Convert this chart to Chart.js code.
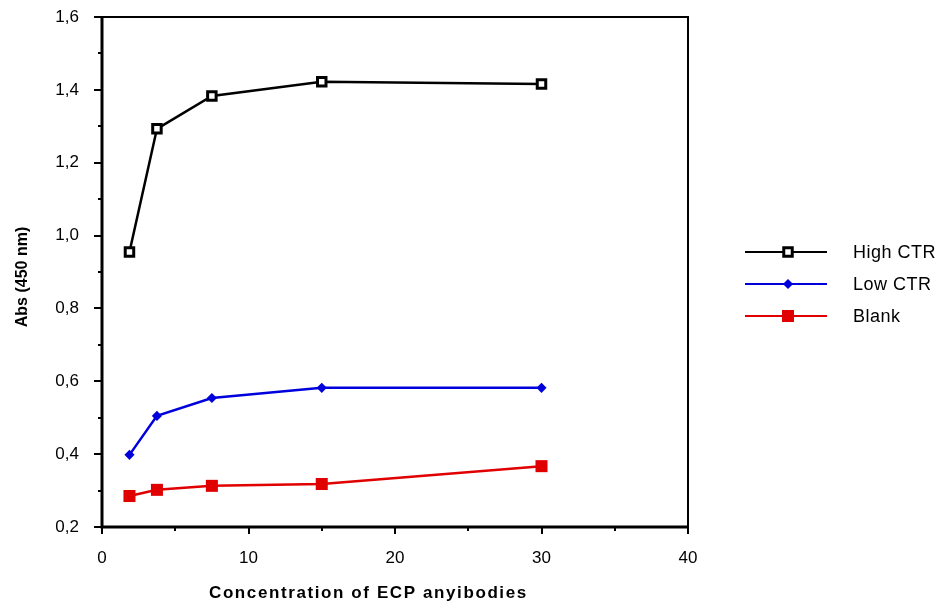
<!DOCTYPE html>
<html>
<head>
<meta charset="utf-8">
<script src="https://cdn.jsdelivr.net/npm/chart.js@4/dist/chart.umd.min.js"></script>
<style>
html,body{margin:0;padding:0;background:#fff;}
#wrap{width:942px;height:605px;position:relative;}
</style>
</head>
<body>
<div id="wrap"><canvas id="c" width="942" height="605"></canvas></div>
<script>
const concentrations = [1.875, 3.75, 7.5, 15, 30];
const highCTR = [0.955, 1.293, 1.383, 1.422, 1.416];
const lowCTR = [0.398, 0.505, 0.554, 0.582, 0.582];
const blank = [0.285, 0.302, 0.313, 0.318, 0.367];
const seriesNames = ['High CTR', 'Low CTR', 'Blank'];
const xTicks = [0, 10, 20, 30, 40];
const xMinorTicks = [5, 15, 25, 35];
const yTicks = [0.2, 0.4, 0.6, 0.8, 1.0, 1.2, 1.4, 1.6];
const yMinorTicks = [0.3, 0.5, 0.7, 0.9, 1.1, 1.3, 1.5];
const xTitle = 'Concentration of ECP anyibodies';
const yTitle = 'Abs (450 nm)';

const FONT = '"Liberation Sans", Arial, sans-serif';

function pts(ys){ return concentrations.map((x,i)=>({x:x,y:ys[i]})); }

const datasets = [
  {label: seriesNames[0], data: pts(highCTR), borderColor:'#000', backgroundColor:'#fff',
   pointStyle:'rect', pointRadius:6, pointBorderWidth:3, pointBorderColor:'#000', pointBackgroundColor:'#fff', borderWidth:2.5},
  {label: seriesNames[1], data: pts(lowCTR), borderColor:'#0000dd', backgroundColor:'#0000dd',
   pointStyle:'rectRot', pointRadius:4, pointBorderWidth:1.5, pointBorderColor:'#0000dd', pointBackgroundColor:'#0000dd', borderWidth:2.5},
  {label: seriesNames[2], data: pts(blank), borderColor:'#e00000', backgroundColor:'#e00000',
   pointStyle:'rect', pointRadius:8.5, pointBorderWidth:0, pointBorderColor:'#e00000', pointBackgroundColor:'#e00000', borderWidth:2.5}
];

const decor = {
  id:'decor',
  afterDraw(chart){
    const ctx = chart.ctx, a = chart.chartArea;
    const xs = chart.scales.x, ys = chart.scales.y;
    ctx.save();
    // frame
    ctx.strokeStyle = '#000';
    ctx.lineWidth = 2;
    ctx.beginPath();
    ctx.moveTo(a.left, a.top); ctx.lineTo(a.right, a.top); ctx.lineTo(a.right, a.bottom);
    ctx.stroke();
    ctx.lineWidth = 3;
    ctx.beginPath();
    ctx.moveTo(a.left, a.top-1); ctx.lineTo(a.left, a.bottom); ctx.lineTo(a.right+1, a.bottom);
    ctx.stroke();
    // ticks
    ctx.lineWidth = 2;
    ctx.beginPath();
    yTicks.forEach(v=>{const y=Math.round(ys.getPixelForValue(v)); ctx.moveTo(a.left-8,y); ctx.lineTo(a.left,y);});
    yMinorTicks.forEach(v=>{const y=Math.round(ys.getPixelForValue(v)); ctx.moveTo(a.left-4,y); ctx.lineTo(a.left,y);});
    xTicks.forEach(v=>{const x=Math.round(xs.getPixelForValue(v)); ctx.moveTo(x,a.bottom); ctx.lineTo(x,a.bottom+7);});
    xMinorTicks.forEach(v=>{const x=Math.round(xs.getPixelForValue(v)); ctx.moveTo(x,a.bottom); ctx.lineTo(x,a.bottom+4);});
    ctx.stroke();
    // axis titles
    ctx.fillStyle = '#000';
    ctx.font = 'bold 17px ' + FONT;
    ctx.textAlign = 'left';
    ctx.textBaseline = 'middle';
    try { ctx.letterSpacing = '1.6px'; } catch(e){}
    ctx.fillText(xTitle, 209, 593);
    try { ctx.letterSpacing = '0px'; } catch(e){}
    ctx.font = 'bold 16px ' + FONT;
    ctx.textAlign = 'center';
    ctx.save();
    ctx.translate(23, 277);
    ctx.rotate(-Math.PI/2);
    ctx.fillText(yTitle, 0, 0);
    ctx.restore();
    // legend
    const ly = [252, 284, 316];
    chart.data.datasets.forEach((ds,i)=>{
      const y = ly[i];
      ctx.strokeStyle = ds.borderColor;
      ctx.lineWidth = 2;
      ctx.beginPath(); ctx.moveTo(745,y); ctx.lineTo(827,y); ctx.stroke();
      ctx.fillStyle = ds.pointBackgroundColor; ctx.strokeStyle = ds.pointBorderColor; ctx.lineWidth = ds.pointBorderWidth;
      Chart.helpers.drawPoint(ctx, {pointStyle: ds.pointStyle, radius: ds.pointRadius, borderWidth: ds.pointBorderWidth}, 788, y);
      ctx.fillStyle = '#000';
      ctx.font = '18px ' + FONT;
      ctx.textAlign = 'left';
      ctx.textBaseline = 'middle';
      try { ctx.letterSpacing = '0.5px'; } catch(e){}
      ctx.fillText(ds.label, 853, y+1);
      try { ctx.letterSpacing = '0px'; } catch(e){}
    });
    ctx.restore();
  }
};

new Chart(document.getElementById('c'), {
  type:'scatter',
  data:{datasets: datasets},
  options:{
    responsive:false,
    animation:false,
    devicePixelRatio:1,
    layout:{padding:{left:0, right:254, top:17, bottom:0}},
    plugins:{legend:{display:false}, tooltip:{enabled:false}},
    elements:{line:{tension:0}},
    datasets:{scatter:{showLine:true}},
    scales:{
      x:{type:'linear', min:0, max:40,
        border:{display:false},
        grid:{display:false},
        afterFit(s){ s.height = 78; s.paddingLeft = 0; s.paddingRight = 0; },
        afterBuildTicks(s){ s.ticks = xTicks.map(v=>({value:v})); },
        ticks:{font:{family:FONT, size:17}, color:'#000', padding:13, maxRotation:0,
          callback:(v)=>String(v)}
      },
      y:{type:'linear', min:0.2, max:1.6,
        border:{display:false},
        grid:{display:false},
        afterFit(s){ s.width = 102; s.paddingTop = 0; s.paddingBottom = 0; },
        afterBuildTicks(s){ s.ticks = yTicks.map(v=>({value:v})); },
        ticks:{font:{family:FONT, size:17}, color:'#000', padding:15,
          callback:(v)=>v.toFixed(1).replace('.', ',')}
      }
    }
  },
  plugins:[decor]
});
</script>
</body>
</html>
